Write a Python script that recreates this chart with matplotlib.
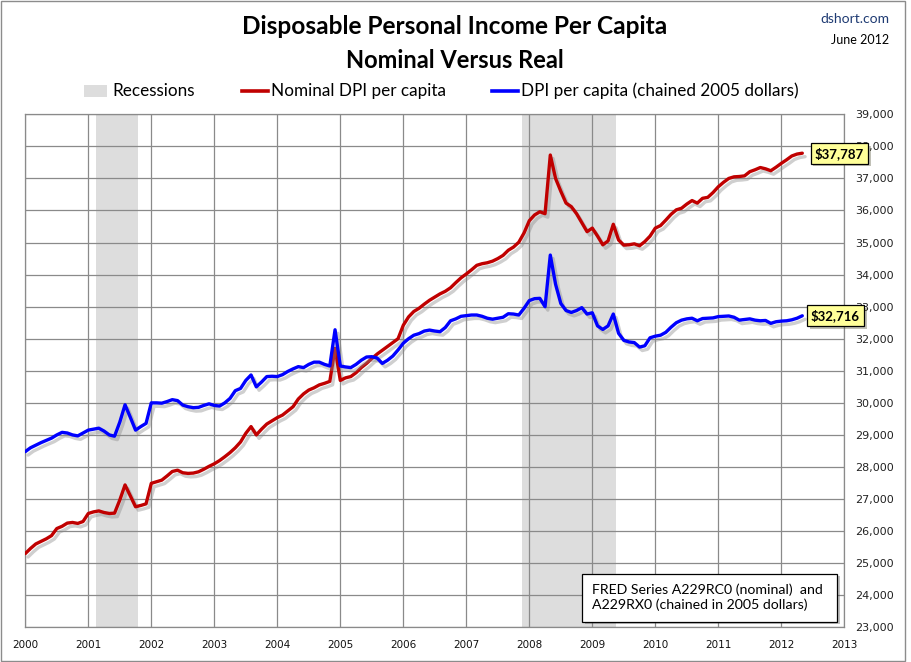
import numpy as np
import matplotlib
matplotlib.use("Agg")
import matplotlib.pyplot as plt
from matplotlib import patheffects as pe
from matplotlib.patches import Rectangle
from matplotlib.lines import Line2D
from matplotlib.ticker import FuncFormatter

# ---------------- data (monthly, Jan 2000 .. May 2012) ----------------
nominal_2000 = [25300, 25460, 25600, 25680, 25760, 25860, 26080, 26150, 26250, 26270, 26240, 26300]
nominal_2001 = [26550, 26600, 26630, 26580, 26550, 26560, 26970, 27440, 27100, 26760, 26800, 26850]
nominal_2002 = [27490, 27540, 27590, 27720, 27860, 27900, 27820, 27800, 27810, 27850, 27930, 28020]
nominal_2003 = [28100, 28200, 28320, 28450, 28600, 28780, 29050, 29260, 29000, 29180, 29340, 29440]
nominal_2004 = [29540, 29620, 29750, 29880, 30120, 30280, 30400, 30470, 30560, 30610, 30670, 31700]
nominal_2005 = [30700, 30780, 30820, 30940, 31100, 31230, 31380, 31520, 31640, 31760, 31880, 32000]
nominal_2006 = [32420, 32680, 32850, 32950, 33080, 33200, 33300, 33400, 33480, 33590, 33750, 33900]
nominal_2007 = [34020, 34150, 34290, 34340, 34370, 34420, 34500, 34600, 34760, 34860, 35010, 35300]
nominal_2008 = [35680, 35860, 35960, 35900, 37730, 37000, 36600, 36230, 36120, 35900, 35620, 35340]
nominal_2009 = [35450, 35200, 34930, 35050, 35570, 35080, 34920, 34930, 34960, 34900, 35030, 35200]
nominal_2010 = [35450, 35530, 35700, 35880, 36020, 36070, 36200, 36310, 36230, 36380, 36410, 36560]
nominal_2011 = [36740, 36880, 37000, 37050, 37060, 37080, 37210, 37270, 37340, 37300, 37240, 37350]
nominal_2012 = [37470, 37580, 37700, 37760, 37787]

real_2000 = [28480, 28600, 28680, 28760, 28830, 28900, 29000, 29080, 29060, 29000, 28970, 29060]
real_2001 = [29150, 29180, 29210, 29120, 29000, 28960, 29400, 29940, 29550, 29150, 29260, 29360]
real_2002 = [30000, 30000, 29990, 30040, 30100, 30070, 29930, 29880, 29850, 29860, 29920, 29970]
real_2003 = [29920, 29900, 30000, 30140, 30380, 30450, 30700, 30870, 30500, 30650, 30820, 30830]
real_2004 = [30820, 30880, 30980, 31060, 31130, 31100, 31200, 31270, 31270, 31200, 31150, 32280]
real_2005 = [31150, 31120, 31100, 31200, 31330, 31430, 31440, 31400, 31230, 31330, 31460, 31650]
real_2006 = [31860, 32000, 32110, 32160, 32240, 32270, 32240, 32220, 32350, 32560, 32620, 32700]
real_2007 = [32720, 32740, 32740, 32700, 32640, 32610, 32640, 32670, 32780, 32770, 32740, 32950]
real_2008 = [33190, 33250, 33260, 33000, 34610, 33700, 33100, 32880, 32820, 32880, 32970, 32770]
real_2009 = [32810, 32400, 32290, 32400, 32770, 32170, 31950, 31900, 31880, 31740, 31780, 32030]
real_2010 = [32080, 32110, 32200, 32360, 32500, 32580, 32620, 32640, 32560, 32630, 32640, 32650]
real_2011 = [32690, 32700, 32710, 32670, 32580, 32600, 32620, 32580, 32560, 32570, 32480, 32530]
real_2012 = [32550, 32560, 32590, 32640, 32716]

nominal = (nominal_2000 + nominal_2001 + nominal_2002 + nominal_2003 + nominal_2004 +
           nominal_2005 + nominal_2006 + nominal_2007 + nominal_2008 + nominal_2009 +
           nominal_2010 + nominal_2011 + nominal_2012)
real = (real_2000 + real_2001 + real_2002 + real_2003 + real_2004 + real_2005 +
        real_2006 + real_2007 + real_2008 + real_2009 + real_2010 + real_2011 + real_2012)

start_year = 2000
recessions = [(2001.12, 2001.79), (2007.88, 2009.37)]
x_ticks = list(range(2000, 2014))
y_ticks = list(range(23000, 40000, 1000))

title_line1 = "Disposable Personal Income Per Capita"
title_line2 = "Nominal Versus Real"
legend_labels = ["Recessions", "Nominal DPI per capita", "DPI per capita (chained 2005 dollars)"]
source_note = "FRED Series A229RC0 (nominal)  and\nA229RX0 (chained in 2005 dollars)"

years = start_year + np.arange(len(nominal)) / 12.0

# ---------------- figure ----------------
W, H = 911, 662
fig = plt.figure(figsize=(W / 100, H / 100), dpi=100)
fig.patch.set_facecolor("white")

def fx(px):
    return px / W

def fy(py):
    return 1 - py / H

# outer frame
fig.patches.append(Rectangle((fx(1), fy(660.5)), fx(905) - fx(1), fy(1) - fy(660.5),
                             transform=fig.transFigure, fill=False, ec="#8c8c8c", lw=1.0))

ax = fig.add_axes([fx(25.3), fy(627.3), fx(844.3) - fx(25.3), fy(114.3) - fy(627.3)])

grid_c = "#8a8a8a"
for s in ax.spines.values():
    s.set_color(grid_c)
    s.set_linewidth(0.9)

for a, b in recessions:
    ax.axvspan(a, b, color="#dddddd", lw=0, zorder=0.2)

ax.set_axisbelow(True)
ax.grid(True, color=grid_c, lw=0.9)

shadow = [pe.SimpleLineShadow(offset=(2, -2.5), shadow_color="#888888", alpha=0.4), pe.Normal()]
red_c = "#C00000"
blue_c = "#0000FF"
ax.plot(years, nominal, color=red_c, lw=2.4, solid_joinstyle="round", solid_capstyle="round",
        path_effects=shadow, zorder=3)
ax.plot(years, real, color=blue_c, lw=2.4, solid_joinstyle="round", solid_capstyle="round",
        path_effects=shadow, zorder=3)

ax.set_xlim(2000, 2013)
ax.set_ylim(23000, 39000)
ax.set_xticks(x_ticks)
ax.set_yticks(y_ticks)
ax.yaxis.tick_right()
ax.yaxis.set_major_formatter(FuncFormatter(lambda v, p: f"{int(v):,}"))
ax.tick_params(axis="y", length=0, pad=8, labelsize=8, labelcolor="#222222")
ax.tick_params(axis="x", length=0, pad=9, labelsize=7.5, labelcolor="#111111")

# value labels at end of series
box_kw = dict(boxstyle="square,pad=0.3", fc="#FFFF99", ec="black", lw=0.9)
for series, dx in ((nominal, 37), (real, 33)):
    ann = ax.annotate(f"${series[-1]:,}", xy=(years[-1], series[-1]), xytext=(dx, 0),
                      textcoords="offset pixels", ha="center", va="center",
                      fontsize=9.5, fontweight="bold", family="Lato", bbox=box_kw,
                      annotation_clip=False, zorder=5)
    ann.get_bbox_patch().set_path_effects([pe.withSimplePatchShadow(offset=(2, -2), alpha=0.35)])

# titles
fig.text(fx(455), fy(27), title_line1, ha="center", va="center", fontsize=17.6,
         fontweight="bold", family="Lato", color="black")
fig.text(fx(455), fy(60), title_line2, ha="center", va="center", fontsize=17.0,
         fontweight="bold", family="Lato", color="black")
fig.text(fx(889), fy(19), "dshort.com", ha="right", va="center", fontsize=10,
         family="Lato", color="#1F3B73")
fig.text(fx(889), fy(40), "June 2012", ha="right", va="center", fontsize=9,
         family="Lato", color="black")

# legend (manual row)
leg_y = fy(91)
fig.patches.append(Rectangle((fx(84), fy(97)), fx(107) - fx(84), fy(85) - fy(97),
                             transform=fig.transFigure, fc="#dddddd", ec="none"))
fig.text(fx(112), leg_y, legend_labels[0], ha="left", va="center", fontsize=12.3,
         family="Lato", color="black")
fig.lines.append(Line2D([fx(242), fx(268)], [leg_y, leg_y], transform=fig.transFigure,
                        color=red_c, lw=2.6))
fig.text(fx(271), leg_y, legend_labels[1], ha="left", va="center", fontsize=12.3,
         family="Lato", color="black")
fig.lines.append(Line2D([fx(492), fx(518)], [leg_y, leg_y], transform=fig.transFigure,
                        color=blue_c, lw=2.6))
fig.text(fx(521), leg_y, legend_labels[2], ha="left", va="center", fontsize=12.3,
         family="Lato", color="black")

# source note box
note_box = Rectangle((fx(582), fy(621.5)), fx(837) - fx(582), fy(573.5) - fy(621.5),
                     transform=fig.transFigure, fc="white", ec="black", lw=0.9, zorder=10)
note_box.set_path_effects([pe.withSimplePatchShadow(offset=(2, -2), alpha=0.35)])
fig.patches.append(note_box)
fig.text(fx(592), fy(597.5), source_note, ha="left", va="center", fontsize=10.2,
         family="Lato", color="black", linespacing=1.25, zorder=11)

fig.savefig("out.png", dpi=100, facecolor="white")
